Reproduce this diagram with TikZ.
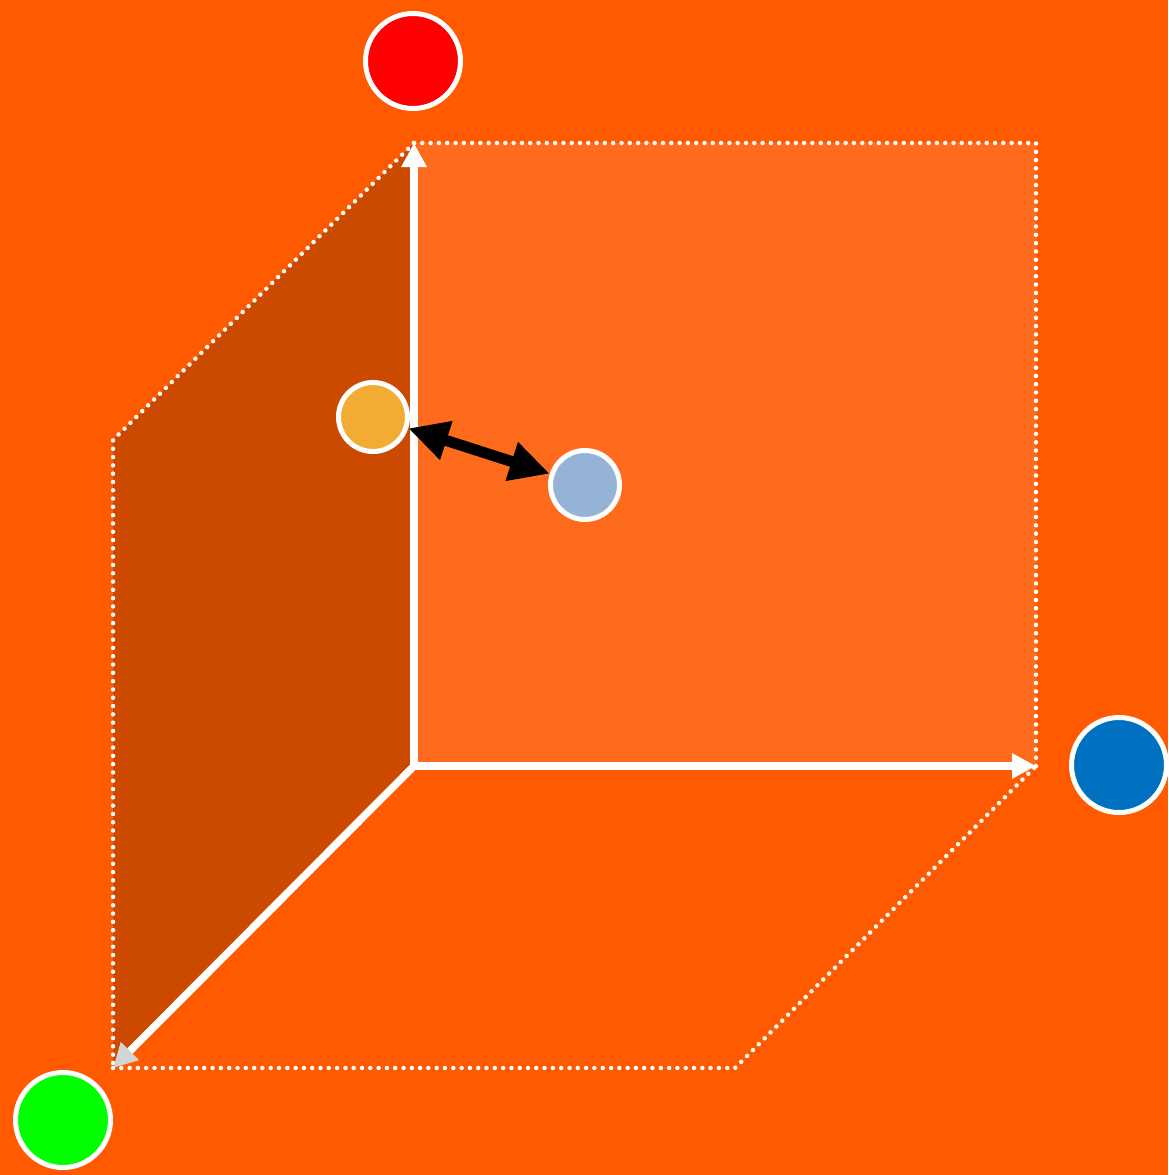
\documentclass[tikz,border=0pt]{standalone}
\usetikzlibrary{arrows.meta}
\definecolor{bgorange}{HTML}{FF5A00}
\definecolor{backplane}{HTML}{FF6B1C}
\definecolor{sideplane}{HTML}{CC4A00}
\definecolor{ballred}{HTML}{FF0000}
\definecolor{ballblue}{HTML}{0070C0}
\definecolor{ballgreen}{HTML}{00FF00}
\definecolor{ballamber}{HTML}{F2AC33}
\definecolor{ballsky}{HTML}{95B3D7}
\definecolor{tipgray}{HTML}{D4D4D4}

\begin{document}
\begin{tikzpicture}[x=1pt, y=-1pt,
  ball/.style={circle, draw=white, line width=5pt, minimum size=95pt, inner sep=0pt},
  smallball/.style={ball, minimum size=69pt},
  axis/.style={line width=7.5pt, draw=white, -{Triangle[length=24pt,width=24pt]}},
  guide/.style={draw=white, line width=4.5pt, line cap=round, dash pattern=on 0pt off 8.3pt},
  link/.style={{Triangle[length=40pt,width=38pt]}-{Triangle[length=40pt,width=38pt]}, line width=11pt, draw=black}
]
% background
\fill[bgorange] (0,0) rectangle (1168,1175);

% corners of the box
\coordinate (O) at (414,766);
\coordinate (zend) at (414,143);
\coordinate (xend) at (1036,766);
\coordinate (yend) at (113,1068);
\coordinate (topright) at (1036,143);
\coordinate (topleft) at (113,440);
\coordinate (botright) at (735,1068);

% planes
\fill[backplane] (O) rectangle (topright);
\fill[sideplane] (zend) -- (topleft) -- (yend) -- (O) -- cycle;

% dotted edges
\draw[guide] (zend) -- (topright) -- (xend);
\draw[guide] (zend) -- (topleft) -- (yend);
\draw[guide] (yend) -- (botright) -- (xend);

% axes
\draw[axis] (O) -- (zend);
\draw[axis] (O) -- (xend);
\draw[axis, -{Triangle[length=24pt,width=24pt,color=tipgray]}] (O) -- (yend);

% balls
\node[ball, fill=ballred] (red) at (413,61) {};
\node[ball, fill=ballblue] (blue) at (1119,765) {};
\node[ball, fill=ballgreen] (green) at (63,1120) {};
\node[smallball, fill=ballamber] (amber) at (373,417) {};
\node[smallball, fill=ballsky] (sky) at (585,485) {};

\draw[link] (amber) -- (sky);
\end{tikzpicture}
\end{document}
